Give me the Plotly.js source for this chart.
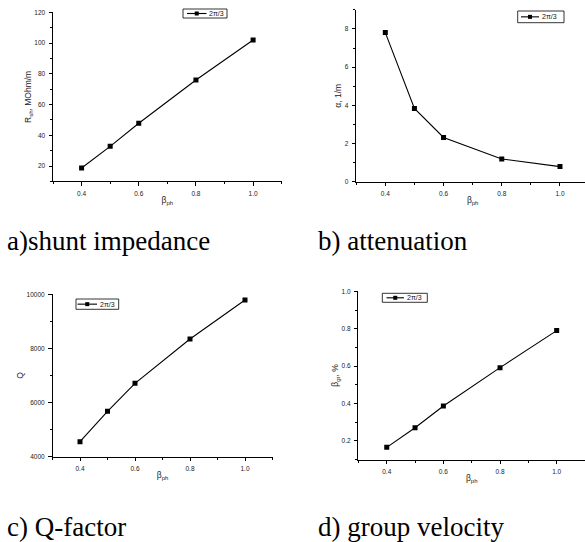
<!DOCTYPE html>
<html>
<head>
<meta charset="utf-8">
<script src="https://cdn.plot.ly/plotly-3.0.1.min.js"></script>
<style>
html,body{margin:0;padding:0;background:#fff;overflow:hidden;}
#chart{width:600px;height:542px;}
</style>
</head>
<body>
<div id="chart"></div>
<script>
// ---- data ----
var betaPh = [0.4, 0.5, 0.6, 0.8, 1.0];
var shuntImpedance = [18.7, 32.8, 47.8, 76.0, 102.0];   // MOhm/m
var attenuation = [7.81, 3.84, 2.32, 1.19, 0.79];        // 1/m
var qFactor = [4554, 5675, 6710, 8349, 9790];
var groupVelocity = [0.166, 0.271, 0.387, 0.592, 0.790]; // %
var seriesName = "2\u03c0/3";
var captions = ["a)shunt impedance", "b) attenuation", "c) Q-factor", "d) group velocity"];

var W = 600, H = 542;
function fx(px){ return px / W; }
function fy(py){ return 1 - py / H; }

function tr(y, n){
  return {
    x: betaPh, y: y, type: "scatter", mode: "lines+markers",
    name: seriesName, showlegend: false,
    xaxis: "x" + (n === 1 ? "" : n), yaxis: "y" + (n === 1 ? "" : n),
    line: {color: "#000", width: 1.1},
    marker: {symbol: "square", size: 5, color: "#000"}
  };
}
var data = [tr(shuntImpedance,1), tr(attenuation,2), tr(qFactor,3), tr(groupVelocity,4)];

var sans = "'Liberation Sans', Arial, sans-serif";
var serif = "'Liberation Serif', 'Times New Roman', Times, serif";
var tickFont = {family: sans, size: 6.5, color: "#222"};
var titleFont = {family: sans, size: 8.5, color: "#222"};

function xax(dom, anchor){
  return {
    domain: dom, anchor: anchor, range: [0.3, 1.1], tickmode: "linear", tick0: 0, dtick: 0.2,
    tickformat: ".1f", ticks: "outside", ticklen: 3.5, tickwidth: 1, tickcolor: "#000",
    minor: {dtick: 0.1, tick0: 0, ticks: "outside", ticklen: 2, tickwidth: 1, tickcolor: "#000"},
    showline: true, linecolor: "#000", linewidth: 1, showgrid: false, zeroline: false,
    tickfont: tickFont, ticklabelstandoff: 2,
    title: {text: "\u03b2<sub>ph</sub>", font: titleFont, standoff: 1}
  };
}
function yax(dom, anchor, range, dtick, mdtick, fmt, title, standoff){
  return {
    domain: dom, anchor: anchor, range: range, tickmode: "linear", tick0: 0, dtick: dtick,
    tickformat: fmt, ticks: "outside", ticklen: 3.5, tickwidth: 1, tickcolor: "#000",
    minor: {dtick: mdtick, tick0: 0, ticks: "outside", ticklen: 2, tickwidth: 1, tickcolor: "#000"},
    showline: true, linecolor: "#000", linewidth: 1, showgrid: false, zeroline: false,
    tickfont: tickFont, ticklabelstandoff: 2,
    title: {text: title, font: titleFont, standoff: standoff}
  };
}

// legend boxes (key: frame, line sample, square marker, label)
var shapes = [], annotations = [];
function legendKey(x0, x1, y0, y1, lx0, lx1, tx){
  var pb = {xref: "paper", yref: "paper"};
  shapes.push(Object.assign({type: "rect", x0: fx(x0), x1: fx(x1), y0: fy(y1), y1: fy(y0),
    line: {color: "#000", width: 0.8}, fillcolor: "rgba(0,0,0,0)"}, pb));
  var ym = (y0 + y1) / 2, mx = (lx0 + lx1) / 2;
  shapes.push(Object.assign({type: "line", x0: fx(lx0), x1: fx(lx1), y0: fy(ym), y1: fy(ym),
    line: {color: "#000", width: 1.1}}, pb));
  shapes.push(Object.assign({type: "rect", x0: fx(mx - 2), x1: fx(mx + 2), y0: fy(ym + 2), y1: fy(ym - 2),
    line: {color: "#000", width: 0}, fillcolor: "#000"}, pb));
  annotations.push({text: seriesName, x: fx(tx), y: fy(ym), xref: "paper", yref: "paper",
    xanchor: "left", yanchor: "middle", showarrow: false, borderpad: 0,
    font: {family: sans, size: 7, color: "#111"}});
}
legendKey(183, 227, 9, 18, 187, 206.5, 207.5);
legendKey(517.7, 564, 11, 22.7, 521, 539, 541);
legendKey(76, 118.7, 299, 309.3, 77.5, 97, 98.5);
legendKey(382.3, 427.3, 293.3, 302.3, 386.5, 404, 405.5);

function cap(text, px, py){
  return {
    text: text, x: fx(px), y: fy(py), xref: "paper", yref: "paper",
    xanchor: "left", yanchor: "middle", showarrow: false,
    font: {family: serif, size: 27, color: "#000"}
  };
}
annotations.push(cap(captions[0], 5, 241));
annotations.push(cap(captions[1], 316, 241));
annotations.push(cap(captions[2], 5, 527));
annotations.push(cap(captions[3], 316, 527));

var layout = {
  width: W, height: H, margin: {l: 0, r: 0, t: 0, b: 0},
  paper_bgcolor: "#fff", plot_bgcolor: "#fff", showlegend: false,
  xaxis: xax([fx(53), fx(281.7)], "y"),
  yaxis: yax([fy(181.4), fy(12.3)], "x", [10, 120], 20, 10, "d", "R<sub>sh</sub>, MOhm/m", 1),
  xaxis2: xax([fx(356.2), fx(589.1)], "y2"),
  yaxis2: yax([fy(181.7), fy(9.9)], "x2", [0, 9], 2, 1, "d", "\u03b1, 1/m", 1),
  xaxis3: xax([fx(52.5), fx(272.5)], "y3"),
  yaxis3: yax([fy(456.7), fy(294.3)], "x3", [4000, 10000], 2000, 1000, "d", "Q", 1),
  xaxis4: xax([fx(358.4), fx(585)], "y4"),
  yaxis4: yax([fy(459.7), fy(291.3)], "x4", [0.1, 1.0], 0.2, 0.1, ".1f", "\u03b2<sub>gr</sub>, %", 1),
  shapes: shapes,
  annotations: annotations
};

Plotly.newPlot("chart", data, layout, {staticPlot: true, displayModeBar: false});
</script>
</body>
</html>
